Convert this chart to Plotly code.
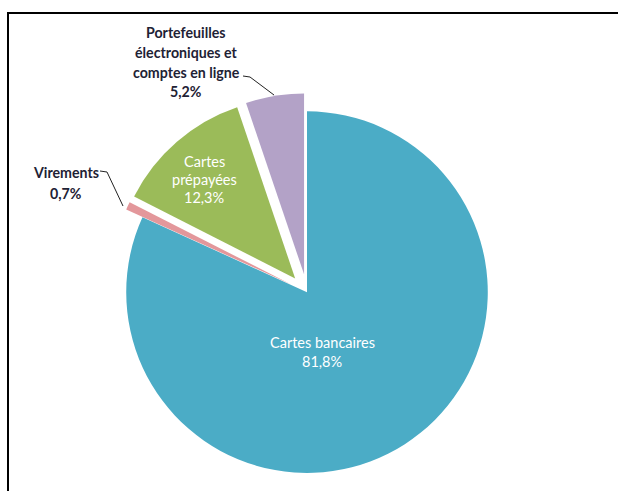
import plotly.graph_objects as go

# ---- data ----
labels = ["Cartes bancaires", "Virements", "Cartes prépayées",
          "Portefeuilles électroniques et comptes en ligne"]
values = [81.8, 0.7, 12.3, 5.2]
label_lines = [["Cartes bancaires"], ["Virements"], ["Cartes", "prépayées"],
               ["Portefeuilles", "électroniques et", "comptes en ligne"]]
colors = ["#4BACC6", "#E3979B", "#9BBB59", "#B3A2C7"]
pulls = [0, 0.1, 0.1, 0.1]

W, H = 618, 491


def px(x):
    return x / W


def py(y):
    return 1 - y / H


def fmt(v):
    return f"{v:.1f}".replace(".", ",") + "%"


fig = go.Figure(go.Pie(
    labels=labels, values=values, sort=False, direction="clockwise",
    rotation=0, pull=pulls, textinfo="none", hoverinfo="label+percent",
    marker=dict(colors=colors, line=dict(width=0)),
    domain=dict(x=[px(307 - 205), px(307 + 205)], y=[0, 0.81]),
    showlegend=False,
))

# label placement (x centre, first-line y, line gap, style)
label_pos = [
    (322, 342, 19, "inside"),
    (66, 173, 20, "outside"),
    (204, 161, 18.5, "inside"),
    (186, 33, 19.5, "outside"),
]

annotations = []
for lines, v, (cx, y0, gap, kind) in zip(label_lines, values, label_pos):
    all_lines = lines + [fmt(v)]
    for i, t in enumerate(all_lines):
        if kind == "inside":
            font = dict(family="Lato", size=14.5, color="white")
        else:
            font = dict(family="Lato", size=14.2, color="#1E2235")
            t = f"<b>{t}</b>"
        annotations.append(dict(
            x=px(cx), y=py(y0 + i * gap), xref="paper", yref="paper",
            text=t, showarrow=False, xanchor="center", yanchor="middle",
            font=font))


def path(points):
    return "M " + " L ".join(f"{px(x)},{py(y)}" for x, y in points)


shapes = [
    # leader lines
    dict(type="path", xref="paper", yref="paper",
         path=path([(243, 76), (250, 77), (274, 95)]),
         line=dict(color="#222222", width=1)),
    dict(type="path", xref="paper", yref="paper",
         path=path([(100, 171), (107, 172), (123, 206)]),
         line=dict(color="#222222", width=1)),
    # frame
    dict(type="path", xref="paper", yref="paper",
         path=path([(8, 492), (8, 13), (619, 13)]),
         line=dict(color="black", width=2)),
]

fig.update_layout(
    width=W, height=H, autosize=False,
    margin=dict(l=0, r=0, t=0, b=0),
    paper_bgcolor="white", plot_bgcolor="white",
    annotations=annotations, shapes=shapes,
)

fig.write_html("out.html", config={"displayModeBar": False},
               post_script="document.body.style.margin='0';"
                           "document.body.style.overflow='hidden';")
